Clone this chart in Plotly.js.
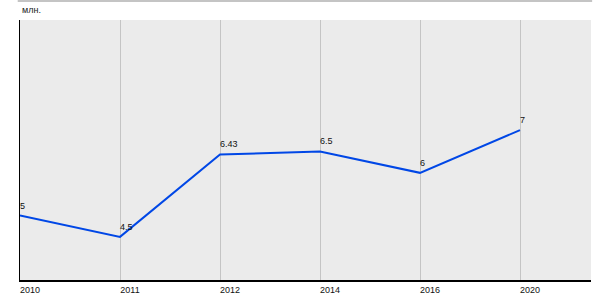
<!DOCTYPE html>
<html>
<head>
<meta charset="utf-8">
<script src="https://cdn.plot.ly/plotly-3.0.1.min.js"></script>
<style>html,body{margin:0;padding:0;background:#fff;}#chart{width:600px;height:300px;}</style>
</head>
<body>
<div id="chart"></div>
<script>
const years = ["2010", "2011", "2012", "2014", "2016", "2020"];
const values = [5, 4.5, 6.43, 6.5, 6, 7];
const valueLabels = ["5", "4.5", "6.43", "6.5", "6", "7"];
const unitLabel = "млн.";

const trace = {
  x: years,
  y: values,
  type: "scatter",
  mode: "lines",
  line: {color: "#0047e6", width: 2},
  cliponaxis: false,
  hoverinfo: "skip"
};

const labelAnnotations = years.map((yr, i) => ({
  x: i, y: values[i], xref: "x", yref: "y",
  text: valueLabels[i], showarrow: false,
  xanchor: "left", yanchor: "bottom", xshift: -2, yshift: 3,
  font: {size: 9, color: "#111"}
}));

const layout = {
  width: 600, height: 300,
  margin: {l: 20, r: 9, t: 20, b: 20, pad: 0},
  paper_bgcolor: "#ffffff",
  plot_bgcolor: "#ebebeb",
  showlegend: false,
  font: {family: "Liberation Sans, Arial, sans-serif", size: 9, color: "#111"},
  xaxis: {
    type: "category",
    range: [0, 5.71],
    showgrid: true, gridcolor: "#c4c4c4", gridwidth: 1,
    showline: true, linecolor: "#000", linewidth: 2,
    ticks: "", tickfont: {size: 9, color: "#111"},
    ticklabelshift: 10,
    zeroline: false, fixedrange: true
  },
  yaxis: {
    range: [3.49, 9.58],
    showgrid: false, showticklabels: false, ticks: "",
    showline: true, linecolor: "#000", linewidth: 1.5,
    zeroline: false, fixedrange: true
  },
  annotations: [{
    text: unitLabel, xref: "paper", yref: "paper",
    x: 0, y: 1, xanchor: "left", yanchor: "bottom", yshift: 3,
    showarrow: false, font: {size: 9, color: "#222"}
  }].concat(labelAnnotations),
  shapes: [{
    type: "line", xref: "paper", yref: "paper",
    x0: -0.004, x1: 1.002, y0: 1.073, y1: 1.073,
    line: {color: "#c4c4c4", width: 2}
  }]
};

Plotly.newPlot("chart", [trace], layout, {displayModeBar: false, staticPlot: true});
</script>
</body>
</html>
